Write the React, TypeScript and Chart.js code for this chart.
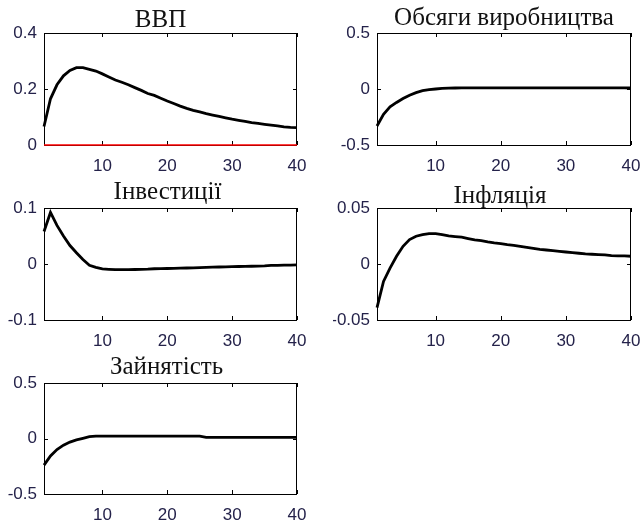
import React, { useEffect, useRef } from "react";
import { Chart, registerables } from "chart.js";

Chart.register(...registerables);

const periods = [
  1, 2, 3, 4, 5, 6, 7, 8, 9, 10, 11, 12, 13, 14, 15, 16, 17, 18, 19, 20,
  21, 22, 23, 24, 25, 26, 27, 28, 29, 30, 31, 32, 33, 34, 35, 36, 37, 38, 39, 40,
];

const gdp = [
  0.066, 0.165, 0.215, 0.247, 0.266, 0.276, 0.276, 0.27, 0.264, 0.254,
  0.243, 0.232, 0.224, 0.215, 0.205, 0.195, 0.184, 0.177, 0.167, 0.157,
  0.148, 0.139, 0.131, 0.124, 0.118, 0.112, 0.107, 0.102, 0.097, 0.092,
  0.088, 0.084, 0.08, 0.077, 0.074, 0.071, 0.068, 0.065, 0.063, 0.062,
];

const output = [
  -0.33, -0.225, -0.16, -0.12, -0.085, -0.055, -0.033, -0.015, -0.005, 0.0,
  0.005, 0.008, 0.009, 0.01, 0.01, 0.01, 0.01, 0.01, 0.01, 0.01,
  0.01, 0.01, 0.01, 0.01, 0.01, 0.01, 0.01, 0.01, 0.01, 0.01,
  0.01, 0.01, 0.01, 0.01, 0.01, 0.01, 0.01, 0.01, 0.01, 0.009,
];

const investment = [
  0.058, 0.092, 0.069, 0.05, 0.033, 0.02, 0.008, -0.0024, -0.006, -0.0088,
  -0.0095, -0.01, -0.01, -0.01, -0.0098, -0.0095, -0.0092, -0.0085, -0.0082, -0.008,
  -0.0077, -0.0074, -0.0071, -0.0068, -0.0064, -0.006, -0.0057, -0.0054, -0.0051, -0.0048,
  -0.0045, -0.0042, -0.004, -0.0037, -0.0034, -0.0025, -0.0023, -0.0021, -0.0019, -0.0017,
];

const inflation = [
  -0.039, -0.0155, -0.0036, 0.0069, 0.0158, 0.0218, 0.0248, 0.0263, 0.0272, 0.0272,
  0.0263, 0.0251, 0.0245, 0.0239, 0.0227, 0.0215, 0.0209, 0.0197, 0.0188, 0.0182,
  0.0173, 0.0167, 0.0158, 0.0149, 0.014, 0.0131, 0.0125, 0.0119, 0.0113, 0.0107,
  0.0101, 0.0096, 0.009, 0.0087, 0.0084, 0.0081, 0.0075, 0.0072, 0.0072, 0.0069,
];

const employment = [
  -0.24, -0.157, -0.1, -0.06, -0.032, -0.013, 0.002, 0.016, 0.021, 0.022,
  0.022, 0.022, 0.022, 0.022, 0.022, 0.022, 0.022, 0.022, 0.022, 0.022,
  0.022, 0.022, 0.022, 0.022, 0.022, 0.011, 0.011, 0.011, 0.011, 0.011,
  0.01, 0.01, 0.01, 0.01, 0.01, 0.01, 0.01, 0.01, 0.01, 0.01,
];

const titles = ["ВВП", "Обсяги виробництва", "Інвестиції", "Інфляція", "Зайнятість"];
const seriesList = [gdp, output, investment, inflation, employment];
const yTicksList = [
  [0, 0.2, 0.4],
  [-0.5, 0, 0.5],
  [-0.1, 0, 0.1],
  [-0.05, 0, 0.05],
  [-0.5, 0, 0.5],
];
const xTicks = [10, 20, 30, 40];
const zeroLevel = 0;

// plot-area boxes and title nudges (layout only)
const boxes = [
  { left: 44, top: 33, w: 253, h: 112, titleDx: -10, titleDy: 6 },
  { left: 377, top: 33, w: 254, h: 112, titleDx: 0, titleDy: 8 },
  { left: 44, top: 208, w: 253, h: 112, titleDx: -3, titleDy: 9 },
  { left: 377, top: 208, w: 254, h: 112, titleDx: -4, titleDy: 5 },
  { left: 44, top: 383, w: 253, h: 111, titleDx: -4, titleDy: 9 },
];

const EXTRA_LEFT = 12;
const AXIS_W = 44;
const TOP_PAD = 33;
const RIGHT_PAD = 24;
const X_AXIS_H = 30;

const tickFont = { family: '"Liberation Sans", Arial, sans-serif', size: 17 };
const tickColor = "#24224a";

function Panel({ index }: { index: number }) {
  const ref = useRef<HTMLCanvasElement | null>(null);
  const box = boxes[index];
  const cw = EXTRA_LEFT + AXIS_W + box.w + RIGHT_PAD;
  const ch = TOP_PAD + box.h + X_AXIS_H;

  useEffect(() => {
    if (!ref.current) return;
    const yTicks = yTicksList[index];
    const title = titles[index];
    const series = seriesList[index];

    const framePlugin = {
      id: "frame" + index,
      beforeDatasetsDraw(chart: any) {
        const { ctx, chartArea: a, scales } = chart;
        ctx.save();
        ctx.strokeStyle = "#000";
        ctx.lineWidth = 1;
        ctx.strokeRect(a.left + 0.5, a.top + 0.5, a.width - 1, a.height);
        const tl = 4;
        ctx.beginPath();
        for (const v of xTicks) {
          const px = Math.round(scales.x.getPixelForValue(v)) + 0.5;
          ctx.moveTo(px, a.bottom);
          ctx.lineTo(px, a.bottom - tl);
          ctx.moveTo(px, a.top);
          ctx.lineTo(px, a.top + tl);
        }
        for (const v of yTicks) {
          const py = Math.round(scales.y.getPixelForValue(v)) + 0.5;
          ctx.moveTo(a.left, py);
          ctx.lineTo(a.left + tl, py);
          ctx.moveTo(a.right, py);
          ctx.lineTo(a.right - tl, py);
        }
        ctx.stroke();
        ctx.restore();
      },
      afterDraw(chart: any) {
        const { ctx, chartArea: a } = chart;
        ctx.save();
        ctx.fillStyle = "#111";
        ctx.font = '25px "Liberation Serif", "Times New Roman", serif';
        ctx.textAlign = "center";
        ctx.textBaseline = "alphabetic";
        ctx.fillText(title, (a.left + a.right) / 2 + box.titleDx, a.top - box.titleDy);
        ctx.restore();
      },
    };

    const datasets: any[] = [];
    if (index === 0) {
      datasets.push({
        data: periods.map((t) => ({ x: t, y: zeroLevel })),
        borderColor: "#ff0000",
        borderWidth: 1.5,
        pointRadius: 0,
        clip: 4,
      });
    }
    datasets.push({
      data: periods.map((t, i) => ({ x: t, y: series[i] })),
      borderColor: "#000",
      borderWidth: 2.8,
      pointRadius: 0,
      tension: 0,
      clip: 4,
    });

    const chart = new Chart(ref.current, {
      type: "line",
      data: { datasets },
      plugins: [framePlugin],
      options: {
        animation: false,
        responsive: false,
        events: [],
        layout: { padding: { left: EXTRA_LEFT, top: TOP_PAD, right: RIGHT_PAD, bottom: 0 } },
        plugins: {
          legend: { display: false },
          tooltip: { enabled: false },
          title: { display: false },
        },
        scales: {
          x: {
            type: "linear",
            min: 1,
            max: 40,
            grid: { display: false, drawTicks: false },
            border: { display: false },
            afterBuildTicks: (s: any) => {
              s.ticks = xTicks.map((v) => ({ value: v }));
            },
            afterFit: (s: any) => {
              s.height = X_AXIS_H;
            },
            ticks: {
              autoSkip: false,
              maxRotation: 0,
              padding: 11,
              font: tickFont,
              color: tickColor,
              callback: (v: any) => String(v),
            },
          },
          y: {
            type: "linear",
            min: yTicks[0],
            max: yTicks[yTicks.length - 1],
            grid: { display: false, drawTicks: false },
            border: { display: false },
            afterBuildTicks: (s: any) => {
              s.ticks = yTicks.map((v) => ({ value: v }));
            },
            afterFit: (s: any) => {
              s.width = AXIS_W;
            },
            ticks: {
              autoSkip: false,
              padding: 7,
              font: tickFont,
              color: tickColor,
              callback: (v: any) => String(v),
            },
          },
        },
      } as any,
    });
    return () => chart.destroy();
  }, [index]);

  return (
    <canvas
      ref={ref}
      width={cw}
      height={ch}
      style={{
        position: "absolute",
        left: box.left - AXIS_W - EXTRA_LEFT,
        top: box.top - TOP_PAD,
        width: cw,
        height: ch,
      }}
    />
  );
}

export default function App() {
  return (
    <div
      style={{
        position: "absolute",
        left: 0,
        top: 0,
        width: 642,
        height: 522,
        background: "#fff",
        overflow: "hidden",
      }}
    >
      {titles.map((_, i) => (
        <Panel key={i} index={i} />
      ))}
    </div>
  );
}
